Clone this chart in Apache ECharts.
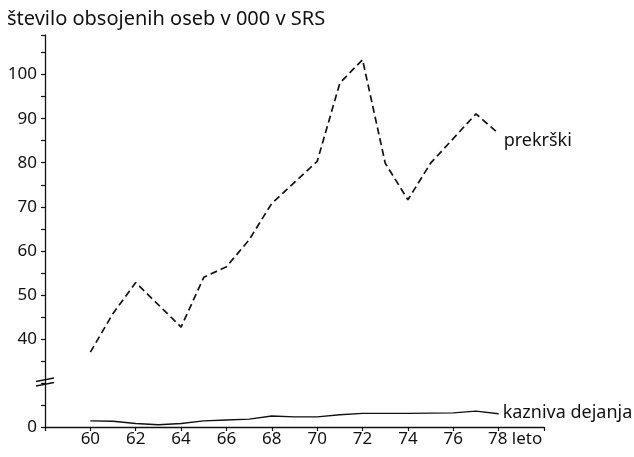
<!DOCTYPE html>
<html><head><meta charset="utf-8">
<script src="https://cdn.jsdelivr.net/npm/echarts@6/dist/echarts.min.js"></script>
<style>html,body{margin:0;padding:0;background:#fff}#c{width:634px;height:457px}</style>
</head><body><div id="c"></div>
<script>
const titleText = 'število obsojenih oseb v 000 v SRS';
const xAxisName = 'leto';
const prekrskiName = 'prekrški';
const prekrskiYears = [60, 61, 62, 64, 65, 66, 67, 68, 70, 71, 72, 73, 74, 75, 77, 78];
const prekrskiValues = [37.0, 45.8, 52.8, 42.7, 54.0, 56.4, 62.5, 70.8, 80.3, 98.1, 103.4, 79.9, 71.6, 79.9, 91.1, 86.6];
const kaznivaName = 'kazniva dejanja';
const kaznivaYears = [60, 61, 62, 63, 64, 65, 66, 67, 68, 69, 70, 71, 72, 74, 76, 77, 78];
const kaznivaValues = [1.4, 1.3, 0.8, 0.5, 0.8, 1.4, 1.6, 1.8, 2.5, 2.3, 2.3, 2.8, 3.1, 3.1, 3.2, 3.6, 3.0];
const upperLabels = [40, 50, 60, 70, 80, 90, 100];
const lowerLabels = [0];

const FONT = '"Noto Sans", "DejaVu Sans", sans-serif';
const INK = '#111';
const chart = echarts.init(document.getElementById('c'), null, {renderer: 'canvas'});
const pair = (xs, ys) => xs.map((x, i) => [x, ys[i]]);

const commonX = {
  type: 'value', min: 58, max: 80, interval: 2
};

chart.setOption({
  animation: false,
  backgroundColor: '#fff',
  title: {
    text: titleText, left: 7, top: 9, padding: 0,
    textStyle: {fontFamily: FONT, fontSize: 20, fontWeight: 'normal', color: INK}
  },
  grid: [
    {left: 45, right: 90, top: 35, bottom: 74},
    {left: 45, right: 90, top: 383, bottom: 30}
  ],
  xAxis: [
    Object.assign({}, commonX, {gridIndex: 0, show: false}),
    Object.assign({}, commonX, {
      gridIndex: 1,
      axisLine: {show: true, lineStyle: {color: INK, width: 1.3}},
      axisTick: {show: true, inside: false, length: 4, lineStyle: {color: INK, width: 1.2}},
      splitLine: {show: false},
      axisLabel: {
        margin: 4, color: INK, fontFamily: FONT, fontSize: 17,
        formatter: v => (v >= 60 && v <= 78) ? (v === 78 ? '{pad|}78 ' + xAxisName : String(v)) : '',
        rich: {pad: {width: 33}}
      }
    })
  ],
  yAxis: [
    {
      gridIndex: 0, type: 'value', min: 30, max: 109, interval: 5,
      axisLine: {show: true, onZero: false, lineStyle: {color: INK, width: 1.3}},
      axisTick: {show: true, length: 4, lineStyle: {color: INK, width: 1.2}},
      splitLine: {show: false},
      axisLabel: {
        margin: 8, color: INK, fontFamily: FONT, fontSize: 17,
        formatter: v => upperLabels.includes(v) ? String(v) : ''
      }
    },
    {
      gridIndex: 1, type: 'value', min: 0, max: 10, interval: 5,
      axisLine: {show: true, onZero: false, lineStyle: {color: INK, width: 1.3}},
      axisTick: {show: true, length: 4, lineStyle: {color: INK, width: 1.2}},
      splitLine: {show: false},
      axisLabel: {
        margin: 8, color: INK, fontFamily: FONT, fontSize: 17,
        formatter: v => lowerLabels.includes(v) ? String(v) : ''
      }
    }
  ],
  series: [
    {
      name: prekrskiName, type: 'line', xAxisIndex: 0, yAxisIndex: 0,
      data: pair(prekrskiYears, prekrskiValues),
      symbol: 'none', silent: true,
      lineStyle: {color: INK, width: 1.7, type: [7, 4]},
      endLabel: {show: true, formatter: '{a}', distance: 5, offset: [0, 7],
        color: INK, fontFamily: FONT, fontSize: 18}
    },
    {
      name: kaznivaName, type: 'line', xAxisIndex: 1, yAxisIndex: 1,
      data: pair(kaznivaYears, kaznivaValues),
      symbol: 'none', silent: true,
      lineStyle: {color: INK, width: 1.4, type: 'solid'},
      endLabel: {show: true, formatter: '{a}', distance: 4, offset: [0, -1],
        color: INK, fontFamily: FONT, fontSize: 18}
    }
  ]
});

// axis-break marks, positioned through the axes' own scales
const bx = chart.convertToPixel({xAxisIndex: 1}, 58);
const by = chart.convertToPixel({yAxisIndex: 0}, 30);
chart.setOption({
  graphic: [
    {type: 'line', shape: {x1: bx - 9, y1: by - 1.5, x2: bx + 9, y2: by - 5}, style: {stroke: INK, lineWidth: 1.3}},
    {type: 'line', shape: {x1: bx - 9, y1: by + 3, x2: bx + 9, y2: by - 0.5}, style: {stroke: INK, lineWidth: 1.3}}
  ]
});
</script></body></html>
